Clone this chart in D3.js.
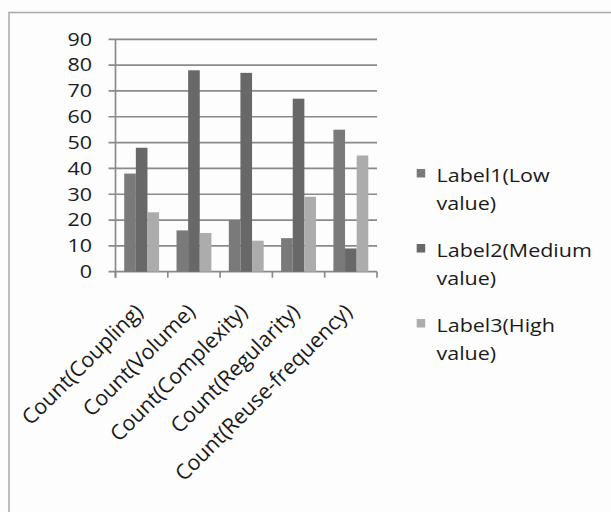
<!DOCTYPE html>
<html>
<head>
<meta charset="utf-8">
<script src="https://cdn.jsdelivr.net/npm/d3@7"></script>
<style>
  html, body { margin: 0; padding: 0; background: #ffffff; }
  svg { display: block; }
  text { font-family: "Open Sans", "Noto Sans", sans-serif; fill: #1a1a1a; }
</style>
</head>
<body>
<svg id="chart" width="611" height="512"></svg>
<script>
const categories = ["Count(Coupling)", "Count(Volume)", "Count(Complexity)", "Count(Regularity)", "Count(Reuse-frequency)"];
const seriesNames = ["Label1(Low value)", "Label2(Medium value)", "Label3(High value)"];
const legendLines = [["Label1(Low", "value)"], ["Label2(Medium", "value)"], ["Label3(High", "value)"]];
const low = [38, 16, 20, 13, 55];
const medium = [48, 78, 77, 67, 9];
const high = [23, 15, 12, 29, 45];
const yTicks = [0, 10, 20, 30, 40, 50, 60, 70, 80, 90];
const colors = ["#7a7a7a", "#686868", "#acacac"];

const series = [low, medium, high];
const SX = 1.22; // horizontal stretch of the text in the reference
const fontSize = 17.6;

const svg = d3.select("#chart");

// Outer frame
svg.append("rect").attr("x", 0).attr("y", 0).attr("width", 611).attr("height", 512).attr("fill", "#fdfdfd");
svg.append("path")
  .attr("d", "M9,512 V12.5 H611")
  .attr("fill", "none").attr("stroke", "#a9a9a9").attr("stroke-width", 1.5);

const x0 = 115.5, x1 = 377, yBottom = 271.7, yTop = 39.3;

const x = d3.scaleBand().domain(categories).range([x0, x1]).paddingInner(0).paddingOuter(0);
const y = d3.scaleLinear().domain([0, 90]).range([yBottom, yTop]);
const bw = x.bandwidth();
// gap width 150% -> band = 4.5 bars
const xs = d3.scaleBand().domain(d3.range(3)).range([bw * 0.75 / 4.5, bw - bw * 0.75 / 4.5]).padding(0);

// gridlines
const grid = svg.append("g");
grid.selectAll("line").data(yTicks).join("line")
  .attr("x1", x0 - 7).attr("x2", x1)
  .attr("y1", d => y(d)).attr("y2", d => y(d))
  .attr("stroke", "#8a8a8a").attr("stroke-width", 1.7);

// y axis line
svg.append("line").attr("x1", x0).attr("x2", x0).attr("y1", yTop).attr("y2", yBottom + 6)
  .attr("stroke", "#8a8a8a").attr("stroke-width", 1.7);

// category ticks
const bounds = categories.map(c => x(c)).concat([x1]);
svg.append("g").selectAll("line").data(bounds).join("line")
  .attr("x1", d => d).attr("x2", d => d)
  .attr("y1", yBottom).attr("y2", yBottom + 6)
  .attr("stroke", "#8a8a8a").attr("stroke-width", 1.7);

// bars
series.forEach((vals, si) => {
  svg.append("g").selectAll("rect").data(vals).join("rect")
    .attr("x", (d, i) => x(categories[i]) + xs(si))
    .attr("width", xs.bandwidth())
    .attr("y", d => y(d))
    .attr("height", d => y(0) - y(d))
    .attr("fill", colors[si]);
});

// y tick labels
svg.append("g").selectAll("text").data(yTicks).join("text")
  .attr("transform", d => `translate(92,${y(d)}) scale(${SX},1)`)
  .attr("text-anchor", "end")
  .attr("dy", "0.36em")
  .attr("font-size", fontSize)
  .text(d => d);

// x labels rotated
svg.append("g").selectAll("text").data(categories).join("text")
  .attr("transform", d => `translate(${x(d) + bw / 2 + 2.5},313) rotate(-45)`)
  .attr("text-anchor", "end")
  .attr("font-size", 21.3)
  .text(d => d);

// legend
const leg = svg.append("g");
legendLines.forEach((lines, i) => {
  const base = 182 + i * 75;
  leg.append("rect").attr("x", 416.7).attr("y", base - 13).attr("width", 8.5).attr("height", 8.5).attr("fill", colors[i]);
  lines.forEach((ln, j) => {
    leg.append("text")
      .attr("transform", `translate(436.5,${base + j * 28}) scale(${SX},1)`)
      .attr("font-size", fontSize)
      .text(ln);
  });
});
</script>
</body>
</html>
